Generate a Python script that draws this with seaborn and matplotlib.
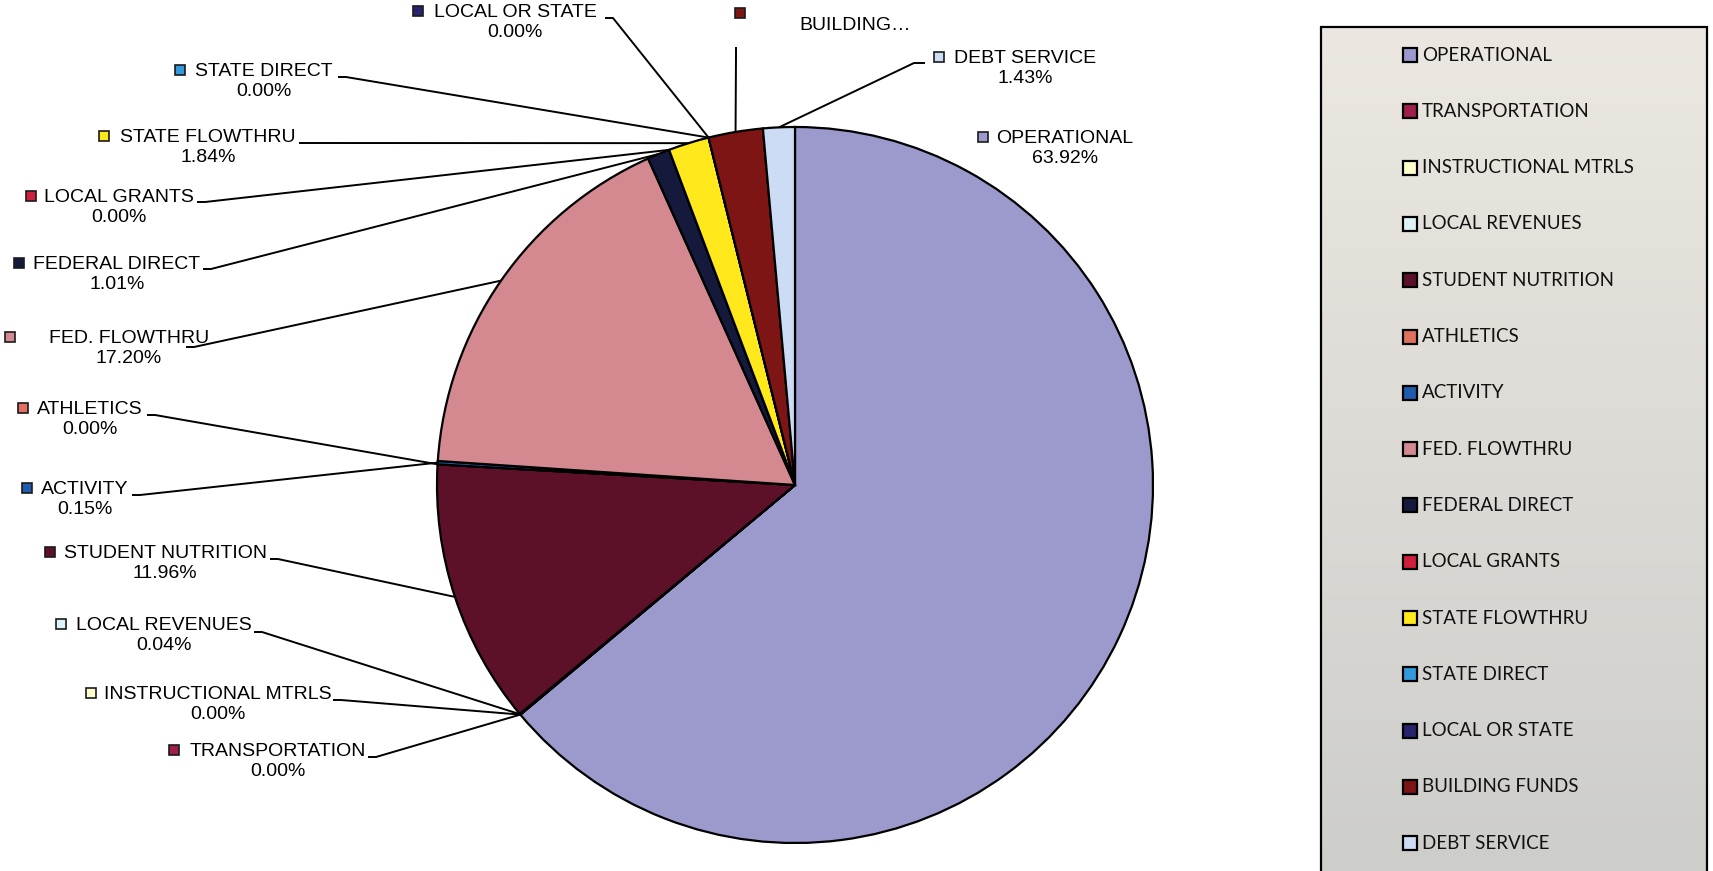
import numpy as np
import matplotlib
matplotlib.use("Agg")
import matplotlib.pyplot as plt
from matplotlib.patches import Rectangle
from matplotlib.colors import to_rgb
import seaborn as sns

# ---- data -------------------------------------------------------------
categories = [
    "OPERATIONAL", "TRANSPORTATION", "INSTRUCTIONAL MTRLS", "LOCAL REVENUES",
    "STUDENT NUTRITION", "ATHLETICS", "ACTIVITY", "FED. FLOWTHRU",
    "FEDERAL DIRECT", "LOCAL GRANTS", "STATE FLOWTHRU", "STATE DIRECT",
    "LOCAL OR STATE", "BUILDING FUNDS", "DEBT SERVICE",
]
shares = [63.92, 0.00, 0.00, 0.04, 11.96, 0.00, 0.15, 17.20,
          1.01, 0.00, 1.84, 0.00, 0.00, 2.45, 1.43]
slice_colors = [
    "#9C99CC", "#A01E4C", "#FFFFCC", "#DDF3F8", "#5C1129", "#E2705F",
    "#1F5CAD", "#D3898F", "#151A3C", "#D01F3C", "#FFE81C", "#3399DA",
    "#27236C", "#7E1515", "#CCDCF4",
]

# ---- layout (pixel coordinates, y measured downward) ---------------------
W, H = 1713, 871
PIE_CENTER = (795, 485)
PIE_RADIUS = 358

# label text centre x, first-line y, key square x, leader start, leader knee
label_layout = {
    "OPERATIONAL":         (1065, 137, 983, None, None),
    "TRANSPORTATION":      (278, 750, 174, (368, 757), (376, 757)),
    "INSTRUCTIONAL MTRLS": (218, 693, 91, (333, 700), (341, 700)),
    "LOCAL REVENUES":      (164, 624, 61, (254, 632), (262, 632)),
    "STUDENT NUTRITION":   (165, 552, 50, (270, 559), (278, 559)),
    "ATHLETICS":           (90, 408, 23, (147, 415), (155, 415)),
    "ACTIVITY":            (85, 488, 27, (132, 495), (140, 495)),
    "FED. FLOWTHRU":       (129, 337, 10, (186, 347), (194, 347)),
    "FEDERAL DIRECT":      (117, 263, 19, (203, 269), (211, 269)),
    "LOCAL GRANTS":        (119, 196, 31, (197, 202), (205, 202)),
    "STATE FLOWTHRU":      (208, 136, 104, (299, 143), (307, 143)),
    "STATE DIRECT":        (264, 70, 180, (338, 77), (346, 77)),
    "LOCAL OR STATE":      (515, 11, 418, (605, 18), (613, 18)),
    "BUILDING FUNDS":      (855, 25, 740, (736, 47), (736, 55)),
    "DEBT SERVICE":        (1025, 57, 939, (925, 63), (914, 63)),
}

LEGEND_BOX = (1321, 27, 1707)    # left, top, right
LEGEND_FIRST_Y = 55
LEGEND_STEP = 56.3
LEGEND_KEY_X = 1410
LEGEND_TEXT_X = 1422


def P(x, y):
    """Pixel position (y downward) -> data position (y upward)."""
    return x, H - y


sns.set_theme(style="white")
plt.rcParams["font.family"] = ["Liberation Sans", "DejaVu Sans"]

fig = plt.figure(figsize=(W / 100, H / 100), dpi=100)
fig.patch.set_facecolor("white")
ax = fig.add_axes([0, 0, 1, 1])

# ---- legend panel background (soft grey gradient) ----------------------
top_c = np.array(to_rgb("#ECE8E1"))
bot_c = np.array(to_rgb("#CDCDCA"))
t = np.linspace(0, 1, 256)[:, None, None]
grad = top_c * (1 - t) + bot_c * t
lx, ly, rx = LEGEND_BOX
ax.imshow(grad, extent=(lx, rx, -10, H - ly), aspect="auto",
          origin="upper", interpolation="bilinear", zorder=0)
ax.add_patch(Rectangle(P(lx, H + 10), rx - lx, H + 10 - ly,
                       facecolor="none", edgecolor="black", lw=1.6, zorder=1))

# ---- pie ----------------------------------------------------------------
cx, cy = P(*PIE_CENTER)
wedges, _ = ax.pie(
    shares, colors=slice_colors, startangle=90, counterclock=False,
    center=(cx, cy), radius=PIE_RADIUS,
    wedgeprops=dict(edgecolor="black", linewidth=1.6),
)
for w in wedges:
    w.set_zorder(2)

# ---- data labels with keys and leader lines -----------------------------
for name, value, w in zip(categories, shares, wedges):
    tx, ty, kx, start, knee = label_layout[name]
    color = w.get_facecolor()
    if name == "BUILDING FUNDS":
        ax.text(*P(tx, ty), "BUILDING\u2026", ha="center", va="center",
                fontsize=14, color="black", zorder=5)
    else:
        ax.text(*P(tx, ty + 11.7), f"{name}\n{value:.2f}%", ha="center",
                va="center", fontsize=14, linespacing=1.2, color="black",
                zorder=5)
    ky = 13 if name == "BUILDING FUNDS" else ty
    ax.add_patch(Rectangle(P(kx - 5, ky + 5), 10, 10, facecolor=color,
                           edgecolor="#1a1a1a", lw=1.2, zorder=5))
    if start is not None:
        mid = np.deg2rad((w.theta1 + w.theta2) / 2)
        ex = cx + PIE_RADIUS * np.cos(mid)
        ey = cy + PIE_RADIUS * np.sin(mid)
        sx, sy = P(*start)
        nx, ny = P(*knee)
        ax.plot([sx, nx, ex], [sy, ny, ey], color="black", lw=1.4,
                solid_capstyle="butt", zorder=4)

# ---- legend -------------------------------------------------------------
for i, (name, w) in enumerate(zip(categories, wedges)):
    y = LEGEND_FIRST_Y + i * LEGEND_STEP
    ax.add_patch(Rectangle(P(LEGEND_KEY_X - 7, y + 7), 14, 14,
                           facecolor=w.get_facecolor(), edgecolor="black",
                           lw=1.6, zorder=5))
    ax.text(*P(LEGEND_TEXT_X, y), name, ha="left", va="center",
            fontsize=13.5, family=["Lato", "DejaVu Sans"], color="#111111",
            zorder=5)

ax.set_xlim(0, W)
ax.set_ylim(0, H)
ax.set_aspect("equal")
ax.axis("off")

fig.savefig("out.png", dpi=100, facecolor="white")
